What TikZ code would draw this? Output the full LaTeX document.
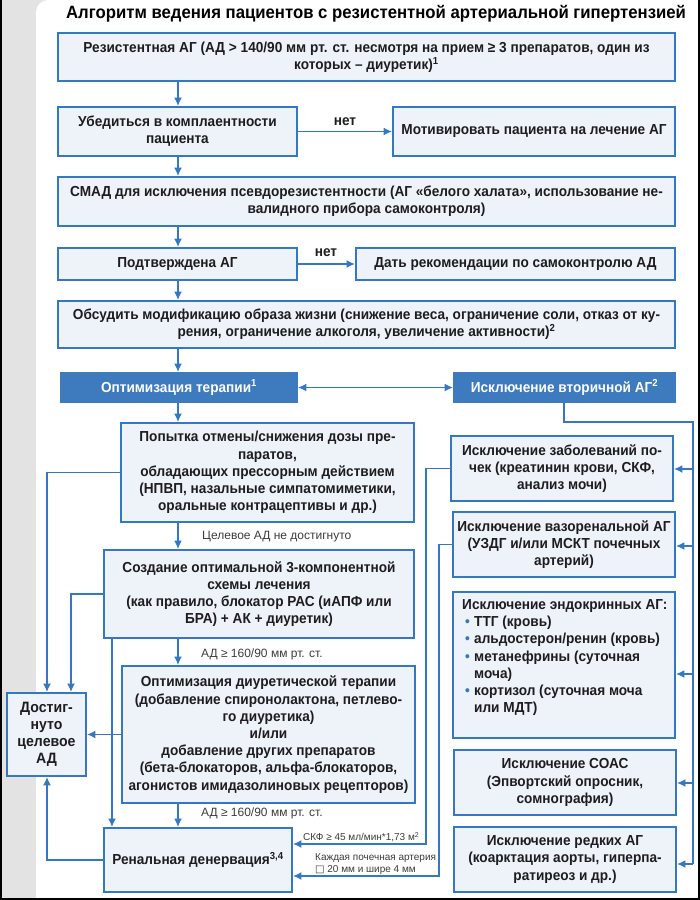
\documentclass[tikz,border=0pt]{standalone}
\usepackage{fontspec}
\setmainfont{Liberation Sans}[FakeStretch=0.94]
\newfontfamily\lblfont{Liberation Sans}
\newfontfamily\symfont{DejaVu Sans}
\usetikzlibrary{arrows.meta,calc}
\definecolor{linec}{RGB}{52,120,195}
\definecolor{boxfill}{RGB}{238,243,250}
\definecolor{darkfill}{RGB}{61,122,190}
\definecolor{txt}{RGB}{30,28,30}
\definecolor{lblc}{RGB}{60,60,60}
\definecolor{bggray}{RGB}{227,227,227}
\newcommand{\rbox}[7][box]{\node[#1,minimum width={(#5)-(#3)},minimum height={(#6)-(#4)}] (#2) at ({((#3)+(#5))/2},{((#4)+(#6))/2}) {#7};}
\newcommand{\bul}{\makebox[12pt][l]{\hspace{3pt}\textcolor{linec}{•}}}
\begin{document}
\begin{tikzpicture}[x=1pt,y=-1pt,
  box/.style={draw=linec,line width=1.8pt,fill=boxfill,inner sep=0pt,text=txt,align=center,
    font=\bfseries\fontsize{14.5}{17.2}\selectfont},
  dbox/.style={box,draw=darkfill,fill=darkfill,text=white},
  ln/.style={draw=linec,line width=1.8pt},
  arr/.style={ln,-{Latex[length=8.5pt,width=8pt]}},
  darr/.style={ln,{Latex[length=8.5pt,width=8pt]}-{Latex[length=8.5pt,width=8pt]}},
  lbl/.style={font=\lblfont\fontsize{12}{13}\selectfont,text=lblc,anchor=west,inner sep=0pt,align=left},
  slbl/.style={lbl,font=\lblfont\fontsize{10}{12}\selectfont},
  nolbl/.style={font=\bfseries\fontsize{14.5}{17}\selectfont,text=txt,inner sep=0pt}]
\useasboundingbox (0,0) rectangle (700,900);
% background
\fill[bggray] (0,0) rectangle (700,900);
\fill[white] (36,898) [rounded corners=12pt] -- (36,0) [sharp corners] -- (698,0) -- (698,898) -- cycle;
\draw[black,line width=1.5pt] (0.75,0) -- (0.75,900);
\draw[black,line width=1.5pt] (698.8,0) -- (698.8,900);
\draw[black,line width=2pt] (0,899) -- (700,899);
% title
\node[font=\bfseries\fontsize{17.8}{20}\selectfont,text=black,inner sep=0pt] (title) at (376,14)
  {Алгоритм ведения пациентов с резистентной артериальной гипертензией};
% boxes
\rbox{b1}{58}{33}{675}{81}{Резистентная АГ (АД > 140/90 мм рт. ст. несмотря на прием ≥ 3 препаратов, один из\\которых – диуретик)\textsuperscript{1}}
\rbox{b2}{58}{107}{297}{156}{Убедиться в комплаентности\\пациента}
\rbox{b3}{393}{107}{675}{156}{Мотивировать пациента на лечение АГ}
\rbox{b4}{58}{177}{675}{226}{СМАД для исключения псевдорезистентности (АГ «белого халата», использование не-\\валидного прибора самоконтроля)}
\rbox{b5}{58}{248}{297}{280}{Подтверждена АГ}
\rbox{b6}{356}{248}{675}{280}{Дать рекомендации по самоконтролю АД}
\rbox{b7}{58}{301}{675}{348}{Обсудить модификацию образа жизни (снижение веса, ограничение соли, отказ от ку-\\рения, ограничение алкоголя, увеличение активности)\textsuperscript{2}}
\rbox[dbox]{b8}{61}{373}{297}{402}{Оптимизация терапии\textsuperscript{1}}
\rbox[dbox]{b9}{454}{373}{675}{402}{Исключение вторичной АГ\textsuperscript{2}}
\rbox{b10}{121}{423}{414}{522}{Попытка отмены/снижения дозы пре-\\паратов,\\обладающих прессорным действием\\(НПВП, назальные симпатомиметики,\\оральные контрацептивы и др.)}
\rbox{b11}{104}{550}{414}{638}{Создание оптимальной 3-компонентной\\схемы лечения\\(как правило, блокатор РАС (иАПФ или\\БРА) + АК + диуретик)}
\rbox{b12}{122}{666}{415}{803}{Оптимизация диуретической терапии\\(добавление спиронолактона, петлево-\\го диуретика)\\и/или\\добавление других препаратов\\(бета-блокаторов, альфа-блокаторов,\\агонистов имидазолиновых рецепторов)}
\rbox{b13}{104}{828}{292}{892}{Ренальная денервация\textsuperscript{3,4}}
\rbox[box,font=\bfseries\fontsize{15}{17}\selectfont]{b14}{7}{693}{86}{776}{Достиг-\\нуто\\целевое\\АД}
\rbox{b15}{451}{436}{673}{501}{Исключение заболеваний по-\\чек (креатинин крови, СКФ,\\анализ мочи)}
\rbox{b16}{453}{512}{675}{577}{Исключение вазоренальной АГ\\(УЗДГ и/или МСКТ почечных\\артерий)}
\rbox{b17}{453}{592}{675}{738}{}
\node[anchor=north west,inner sep=0pt,align=left,text=txt,font=\bfseries\fontsize{14.5}{17.3}\selectfont] (b17t) at (462,599)
  {Исключение эндокринных АГ:\\
   \bul ТТГ (кровь)\\
   \bul альдостерон/ренин (кровь)\\
   \bul метанефрины (суточная\\
   \hspace*{12pt}моча)\\
   \bul кортизол (суточная моча\\
   \hspace*{12pt}или МДТ)};
\rbox{b18}{454}{750}{676}{815}{Исключение СОАС\\(Эпвортский опросник,\\сомнография)}
\rbox{b19}{454}{827}{676}{892}{Исключение редких АГ\\(коарктация аорты, гиперпа-\\ратиреоз и др.)}
% helper coordinates
\coordinate (xs) at (178,0);
\coordinate (c47) at (47,0);
\coordinate (c71) at (71,0);
\coordinate (c112) at (112,0);
\coordinate (r1) at (564,422);
\coordinate (r2) at (693,422);
\coordinate (r3) at (693,864);
\coordinate (e15) at (693,469);
\coordinate (e16) at (693,546);
\coordinate (e17) at (693,674);
\coordinate (e18) at (693,783);
\coordinate (e19) at (693,864);
\coordinate (k1) at (426,844);
\coordinate (k2) at (439,876);
% main column
\draw[arr] (b1.south -| xs) -- (b2.north -| xs);
\draw[arr] (b2) -- (b3);
\node[nolbl] (no1) at (345,122) {нет};
\draw[arr] (b2.south -| xs) -- (b4.north -| xs);
\draw[arr] (b4.south -| xs) -- (b5.north -| xs);
\draw[arr] (b5) -- (b6);
\node[nolbl] (no2) at (326,253) {нет};
\draw[arr] (b5.south -| xs) -- (b7.north -| xs);
\draw[arr] (b7.south -| xs) -- (b8.north -| xs);
\draw[darr] (b8) -- (b9);
\draw[arr] (b8.south -| xs) -- (b10.north -| xs);
\draw[arr] (b10.south -| xs) -- (b11.north -| xs);
\node[lbl] (l1) at (202,537) {Целевое АД не достигнуто};
\draw[arr] (b11.south -| xs) -- (b12.north -| xs);
\node[lbl] (l2) at (201,654) {АД ≥ 160/90 мм рт. ст.};
\draw[arr] (b12.south -| xs) -- (b13.north -| xs);
\node[lbl] (l3) at (201,813) {АД ≥ 160/90 мм рт. ст.};
\draw[arr] (b11.south -| c112) -- (b13.north -| c112);
% to target BP
\draw[arr] (b10.west) -| (b14.north -| c47);
\draw[arr] (b11.west) -| (b14.north -| c71);
\draw[arr] (b12.west) -- (b12.west -| b14.east);
\draw[arr] (b13.west) -| (b14.south -| c47);
% secondary
\draw[ln] (b9.south -| r1) -- (r1) -- (r2) -- (r3);
\draw[arr] (e15) -- (e15 -| b15.east);
\draw[arr] (e16) -- (e16 -| b16.east);
\draw[arr] (e17) -- (e17 -| b17.east);
\draw[arr] (e18) -- (e18 -| b18.east);
\draw[arr] (e19) -- (e19 -| b19.east);
% to renal denervation
\draw[arr] (b15.west) -| (k1) -- (k1 -| b13.east);
\draw[arr] (b16.west) -| (k2) -- (k2 -| b13.east);
\node[slbl] (l4) at (303,837) {СКФ ≥ 45 мл/мин*1,73 м\textsuperscript{2}};
\node[slbl] (l5) at (315,864) {Каждая почечная артерия\\{\symfont □} 20 мм и шире 4 мм};
\end{tikzpicture}
\end{document}
